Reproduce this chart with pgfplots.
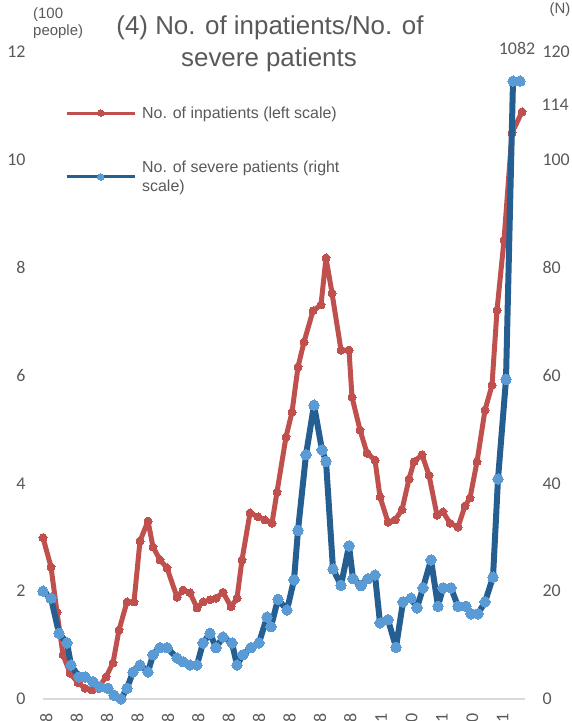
\documentclass[border=0pt]{standalone}
\usepackage{pgfplots}
\pgfplotsset{compat=1.18}
\usepackage{fontspec}
\setmainfont{Liberation Sans}
\newfontfamily\carlito{Carlito}

\definecolor{inred}{HTML}{C0504D}
\definecolor{sevline}{HTML}{255E91}
\definecolor{sevmark}{HTML}{5B9BD5}
\definecolor{txtgray}{HTML}{595959}
\definecolor{basegray}{HTML}{D9D9D9}

% x = position along the time axis, y = hundreds of people
\pgfplotstableread{
x y
43 2.99
51 2.45
57 1.61
63 0.82
70 0.48
78 0.30
85 0.20
92 0.17
98 0.20
106 0.41
113 0.67
119 1.28
127 1.80
134 1.80
140 2.93
148 3.30
153 2.82
160 2.58
167 2.43
177 1.89
183 2.02
190 1.97
197 1.69
203 1.80
210 1.84
216 1.87
223 1.98
231 1.71
237 1.87
242 2.58
250 3.45
258 3.38
265 3.32
272 3.26
277 3.84
286 4.86
292 5.32
298 6.16
304 6.62
313 7.20
321 7.31
326 8.18
332 7.53
341 6.47
349 6.47
352 5.60
360 4.99
367 4.56
375 4.43
380 3.75
388 3.28
395 3.32
402 3.51
409 4.08
414 4.40
422 4.53
429 4.15
437 3.41
443 3.47
450 3.26
458 3.19
465 3.58
470 3.73
477 4.40
485 5.36
492 5.82
497 7.21
504 8.51
512 10.50
522 10.89
}\inpatients

% severe patients (N)
\pgfplotstableread{
x y
43 20.0
51 18.7
59 12.2
67 10.4
71 6.3
79 4.1
85 4.1
93 3.2
100 2.2
108 2.0
114 0.7
121 0.0
127 2.0
133 5.0
140 6.3
148 5.0
153 8.2
160 9.5
167 9.5
177 7.6
183 6.9
190 6.3
197 6.3
203 10.4
210 12.2
216 9.5
223 11.5
232 10.4
237 6.3
243 8.2
251 9.5
259 10.4
267 15.2
271 13.4
278 18.5
287 16.5
294 22.1
298 31.3
306 45.3
314 54.5
322 46.2
326 44.1
333 24.1
341 21.1
349 28.4
353 22.3
361 21.0
368 22.3
375 23.0
380 14.1
388 14.7
396 9.6
403 18.0
411 18.7
417 16.9
423 20.6
431 25.8
438 17.2
443 20.6
451 20.6
458 17.2
466 17.2
471 15.8
478 15.8
485 18.0
493 22.6
498 40.8
506 59.3
513 114.6
520 114.6
}\severe

\pgfplotsset{
  chartbox/.style={
    scale only axis, width=482bp, height=647bp,
    at={(43bp,22bp)}, anchor=south west,
    xmin=43, xmax=525, clip=false,
    major tick length=0pt,
    tick label style={font=\carlito\fontsize{18}{20}\selectfont, text=txtgray},
    /pgf/number format/assume math mode=true,
    legend image code/.code={
      \draw[mark repeat=2,mark phase=2,##1,line width=3bp,mark size=3.2bp]
        plot coordinates {(0bp,0bp) (34bp,0bp) (68bp,0bp)};},
    legend style={draw=none, fill=none, inner sep=0pt, anchor=west,
      font=\fontsize{16}{19}\selectfont, text=txtgray,
      cells={align=left, anchor=west}},
  },
}

\begin{document}
\begin{tikzpicture}
\path[use as bounding box] (0,0) rectangle (572bp,721bp);

\begin{axis}[chartbox,
    ymin=0, ymax=12, ytick={0,2,...,12},
    axis y line*=left, axis x line*=bottom,
    y axis line style={draw=none},
    x axis line style={basegray, line width=2bp, -},
    yticklabel style={anchor=east, xshift=-14bp},
    xtick={46.6,77,107.4,137.8,168.2,198.6,229,259.4,289.8,320.2,350.6,381,411.4,441.8,472.2,502.6},
    xticklabels={20/3/8,20/4/8,20/5/8,20/6/8,20/7/8,20/8/8,20/9/8,20/10/8,20/11/8,20/12/8,21/1/8,21/2/11,21/3/10,21/4/11,21/5/10,21/6/11},
    xticklabel style={rotate=90, anchor=east, xshift=-11bp},
    legend style={at={(rel axis cs:0.0456,0.9057)}, column sep=4bp},
  ]
  \addplot[inred, line width=5bp, line join=round, mark=*, mark size=4bp,
    mark options={fill=inred, draw=inred, line width=0pt}]
    table[x=x, y=y] {\inpatients};
  \addlegendentry{No. of inpatients (left scale)}
\end{axis}

\begin{axis}[chartbox,
    ymin=0, ymax=120, ytick={0,20,...,120},
    axis y line*=right, axis x line=none,
    y axis line style={draw=none},
    yticklabel style={anchor=west, xshift=14bp},
    legend style={at={(rel axis cs:0.0456,0.8068)}, column sep=4bp},
  ]
  \addplot[sevline, line width=6bp, line join=round, mark=*, mark size=5.2bp,
    mark options={fill=sevmark, draw=sevmark, line width=0pt}]
    table[x=x, y=y] {\severe};
  \addlegendentry{No. of severe patients (right\\scale)}
  \node[font=\carlito\fontsize{18}{20}\selectfont, text=txtgray] at (axis cs:517,120.7) {1082};
  \node[font=\carlito\fontsize{18}{20}\selectfont, text=txtgray, anchor=west] at (axis cs:538,110.3) {114};
\end{axis}

\node[font=\fontsize{26}{30}\selectfont, text=txtgray] at (270bp,693bp) {(4) No. of inpatients/No. of};
\node[font=\fontsize{26}{30}\selectfont, text=txtgray] at (269bp,661bp) {severe patients};
\node[font=\fontsize{15}{18}\selectfont, text=txtgray, align=left, anchor=north west, inner sep=0pt] at (33bp,714bp) {(100\\people)};
\node[font=\fontsize{15}{18}\selectfont, text=txtgray] at (560bp,711bp) {(N)};
\end{tikzpicture}
\end{document}
